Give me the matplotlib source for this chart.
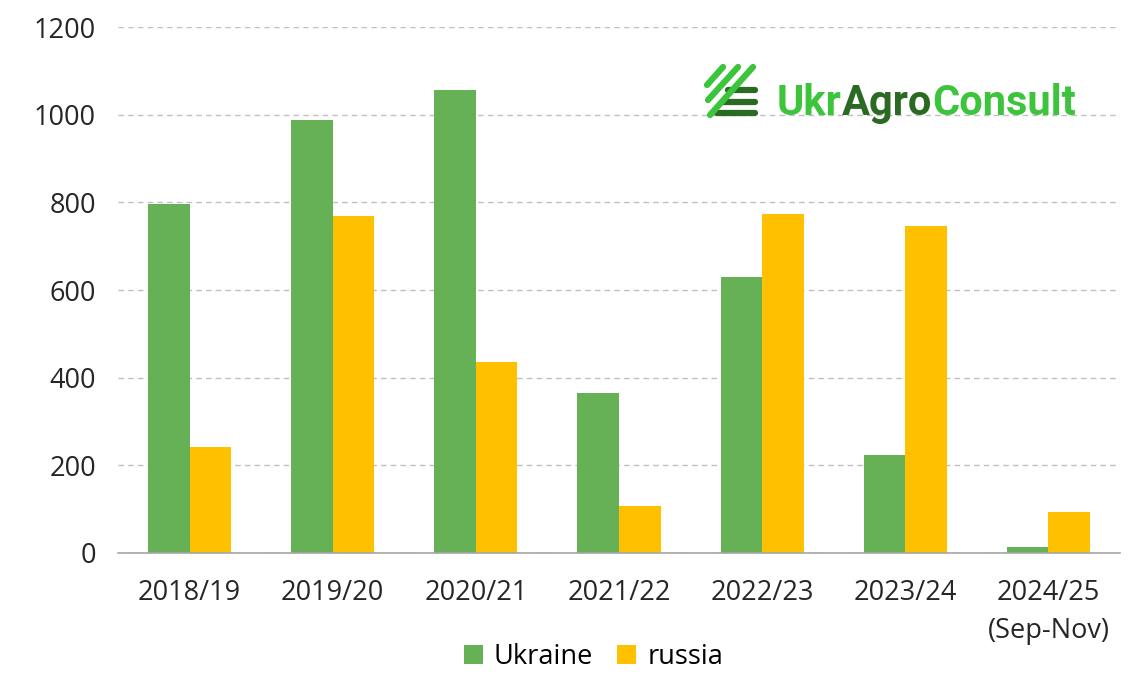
import matplotlib.pyplot as plt
import numpy as np
from matplotlib.lines import Line2D

# data
seasons = ['2018/19', '2019/20', '2020/21', '2021/22', '2022/23', '2023/24', '2024/25\n(Sep-Nov)']
ukraine = [797, 988, 1057, 366, 630, 224, 14]
russia = [242, 770, 436, 107, 773, 746, 94]

plt.rcParams['font.family'] = ['Open Sans', 'DejaVu Sans']

green = '#66b055'
yellow = '#ffc000'

fig = plt.figure(figsize=(11.39, 6.78), dpi=100)
ax = fig.add_axes([0.1036, 0.1844, 0.8797, 0.7756])

x = np.arange(len(seasons))
w = 0.29
ax.bar(x - w / 2, ukraine, w, color=green, label='Ukraine', zorder=3)
ax.bar(x + w / 2, russia, w, color=yellow, label='russia', zorder=3)

ax.set_xlim(-0.5, len(seasons) - 0.5)
ax.set_ylim(0, 1200)
ax.set_yticks(range(0, 1201, 200))
ax.set_xticks(x)
ax.set_xticklabels(seasons, fontsize=19.5, color='#262626', linespacing=1.45)
ax.tick_params(axis='y', labelsize=19.5, labelcolor='#262626', length=0, pad=16)
ax.tick_params(axis='x', length=0, pad=19)

ax.yaxis.grid(True, color='#c0c0c0', linestyle=(0, (4, 3)), linewidth=1)
for s in ['top', 'right', 'left']:
    ax.spines[s].set_visible(False)
ax.spines['bottom'].set_color('#a6a6a6')
ax.spines['bottom'].set_linewidth(1.2)
ax.spines['bottom'].set_zorder(4)

fig.legend(loc='center', bbox_to_anchor=(0.521, 0.031), ncol=2, frameon=False,
           fontsize=19.5, handlelength=0.7, handleheight=0.7, handletextpad=0.4,
           columnspacing=0.9)

# logo
H = 678
def px(xp, yp):
    return (xp / 1139, 1 - yp / H)

bright = '#3cc43c'
dark = '#2a6a22'
for (x0, y0, x1, y1) in [(717, 113, 755, 113), (723, 102, 755, 102), (728, 90, 755, 90)]:
    a, b = px(x0, y0)
    c, d = px(x1, y1)
    fig.add_artist(Line2D([a, c], [b, d], color=dark, lw=4.5, solid_capstyle='round'))
for (x0, y0, x1, y1) in [(710, 115, 753, 67), (708, 100, 738, 67), (707, 85, 723, 67)]:
    a, b = px(x0, y0)
    c, d = px(x1, y1)
    fig.add_artist(Line2D([a, c], [b, d], color=bright, lw=4.5, solid_capstyle='round'))

fig.canvas.draw()
r = fig.canvas.get_renderer()
xpos = 777 / 1139
ybase = 1 - 115 / H
for part, col in [('Ukr', bright), ('Agro', dark), ('Consult', bright)]:
    t = fig.text(xpos, ybase, part, fontsize=30, fontweight='bold', color=col,
                 va='baseline', ha='left', family='Roboto')
    bb = t.get_window_extent(renderer=r)
    xpos = bb.x1 / fig.bbox.width

fig.savefig('out.png', dpi=100)
